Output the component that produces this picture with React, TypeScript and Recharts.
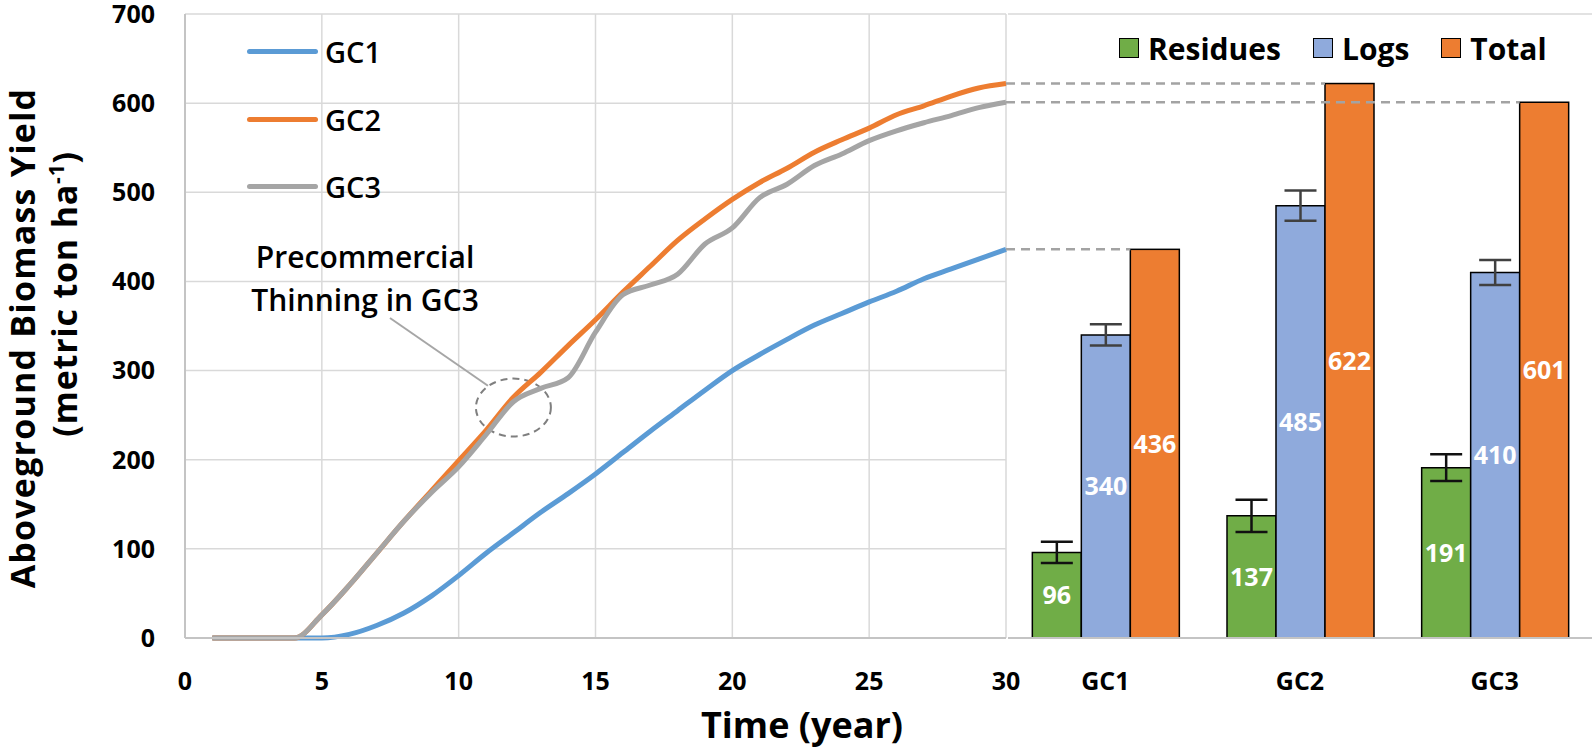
import React from 'react';
import {
  LineChart, Line, BarChart, Bar, XAxis, YAxis, CartesianGrid, Legend,
  ReferenceLine, ReferenceArea, ReferenceDot, ErrorBar, LabelList,
} from 'recharts';

const FONT = "'Open Sans', sans-serif";

// growth curves, metric ton / ha, one value per year
const years = [1, 2, 3, 4, 5, 6, 7, 8, 9, 10, 11, 12, 13, 14, 15, 16, 17, 18, 19, 20, 21, 22, 23, 24, 25, 26, 27, 28, 29, 30];
const gc1Yield = [0, 0, 0, 0, 0, 4, 14, 28, 47, 70, 95, 118, 141, 162, 184, 208, 232, 255, 278, 300, 318, 335, 351, 364, 377, 389, 403, 414, 425, 436];
const gc2Yield = [0, 0, 0, 0, 26, 59, 95, 131, 165, 199, 233, 270, 298, 328, 357, 388, 417, 446, 470, 492, 511, 527, 545, 559, 572, 587, 597, 608, 617, 622];
const gc3Yield = [0, 0, 0, 0, 26, 59, 95, 131, 163, 192, 228, 265, 280, 292, 343, 385, 396, 408, 442, 460, 494, 509, 530, 543, 558, 569, 578, 586, 595, 601];

// harvest at year 30
const groups = ['GC1', 'GC2', 'GC3'];
const residues = [96, 137, 191];
const residuesErr = [12, 18, 15];
const logs = [340, 485, 410];
const logsErr = [12, 17, 14];
const total = [436, 622, 601];
const barSeries = ['Residues', 'Logs', 'Total'];

const yTicks = [0, 100, 200, 300, 400, 500, 600, 700];
const xTicks = [0, 5, 10, 15, 20, 25, 30];

const lineData = years.map((year, i) => ({
  year, GC1: gc1Yield[i], GC2: gc2Yield[i], GC3: gc3Yield[i],
}));

const barData = groups.map((group, i) => ({
  group,
  residues: residues[i], residuesErr: residuesErr[i],
  logs: logs[i], logsErr: logsErr[i],
  total: total[i],
}));

const tickStyle = { fill: '#000', fontSize: 25, fontWeight: 700, fontFamily: FONT };
const axisLine = { stroke: '#c4c4c4', strokeWidth: 2 };

function LineLegend({ payload }: any) {
  return (
    <div style={{ fontFamily: FONT }}>
      {(payload || []).map((item: any) => (
        <div key={item.value} style={{ display: 'flex', alignItems: 'center', height: 67.5 }}>
          <span style={{ width: 71, height: 5, borderRadius: 3, background: item.color }} />
          <span style={{ marginLeft: 7, fontSize: 29, fontWeight: 600, color: '#000' }}>{item.value}</span>
        </div>
      ))}
    </div>
  );
}

function BarLegend({ payload }: any) {
  const items = [...(payload || [])].sort(
    (a: any, b: any) => barSeries.indexOf(a.value) - barSeries.indexOf(b.value),
  );
  return (
    <div style={{ display: 'flex', alignItems: 'center', height: 40, fontFamily: FONT }}>
      {items.map((item: any) => (
        <div key={item.value} style={{ display: 'flex', alignItems: 'center', marginRight: 32 }}>
          <span style={{ width: 18, height: 18, background: item.color, border: '1.5px solid #000' }} />
          <span style={{ marginLeft: 9, fontSize: 30, fontWeight: 700, color: '#000' }}>{item.value}</span>
        </div>
      ))}
    </div>
  );
}

// Total bar plus the dashed guide running back to the end of its curve
function TotalBar({ x, y, width, height, fill }: any) {
  return (
    <g>
      <rect x={x} y={y} width={width} height={height} fill={fill} stroke="#000" strokeWidth={1.5} />
      <line x1={0} y1={y} x2={x} y2={y} stroke="#a3a3a3" strokeWidth={2.5} strokeDasharray="9 6" />
    </g>
  );
}

function YTitle() {
  return (
    <g fontFamily={FONT} fontWeight={700} fill="#000">
      <text x={35} y={338} transform="rotate(-90, 35, 338)" textAnchor="middle" fontSize={34} letterSpacing={1.2}>
        Aboveground Biomass Yield
      </text>
      <text x={77} y={294} transform="rotate(-90, 77, 294)" textAnchor="middle" fontSize={34} letterSpacing={0.8}>
        (metric ton ha<tspan fontSize={21} dy={-13}>-1</tspan><tspan dy={13}>)</tspan>
      </text>
    </g>
  );
}

function XTitle() {
  return (
    <text x={802} y={738} textAnchor="middle" fontFamily={FONT} fontWeight={700} fontSize={36} fill="#000">
      Time (year)
    </text>
  );
}

function NoteText({ cx, cy }: any) {
  return (
    <g fontFamily={FONT} fontWeight={600} fontSize={30} fill="#000" textAnchor="middle">
      <text x={cx} y={cy - 22}>Precommercial</text>
      <text x={cx} y={cy + 21}>Thinning in GC3</text>
    </g>
  );
}

function NoteEllipse({ x, y, width, height }: any) {
  return (
    <ellipse
      cx={x + width / 2} cy={y + height / 2} rx={width / 2} ry={height / 2}
      fill="none" stroke="#7f7f7f" strokeWidth={2} strokeDasharray="7 5"
    />
  );
}

export default function App() {
  return (
    <div style={{ position: 'absolute', left: 0, top: 0, width: 1594, height: 750, background: '#fff' }}>
      <div style={{ position: 'absolute', left: 0, top: 0 }}>
        <LineChart width={1040} height={750} data={lineData} margin={{ top: 14, right: 34, bottom: 12, left: 0 }}>
          <CartesianGrid stroke="#d9d9d9" strokeWidth={1.5} />
          <XAxis
            dataKey="year" type="number" domain={[0, 30]} ticks={xTicks}
            height={100} tick={tickStyle} tickLine={false} tickSize={6} tickMargin={28}
            axisLine={axisLine} label={{ content: () => <XTitle /> }}
          />
          <YAxis
            domain={[0, 700]} ticks={yTicks} width={185}
            tick={tickStyle} tickLine={false} tickSize={6} tickMargin={24}
            axisLine={axisLine} label={{ content: () => <YTitle /> }}
          />
          <Legend
            layout="horizontal" verticalAlign="middle" align="center"
            content={<LineLegend />}
            wrapperStyle={{ left: 247, top: 18, width: 'auto', height: 'auto' }}
          />
          <Line type="monotone" dataKey="GC1" name="GC1" stroke="#5B9BD5" strokeWidth={5} dot={false} isAnimationActive={false} />
          <Line type="monotone" dataKey="GC2" name="GC2" stroke="#ED7D31" strokeWidth={5} dot={false} isAnimationActive={false} />
          <Line type="monotone" dataKey="GC3" name="GC3" stroke="#A5A5A5" strokeWidth={5} dot={false} isAnimationActive={false} />
          <ReferenceArea x1={10.63} x2={13.37} y1={226} y2={291} ifOverflow="visible" shape={<NoteEllipse />} />
          <ReferenceLine
            segment={[{ x: 7.49, y: 359 }, { x: 11.07, y: 283 }]}
            stroke="#a6a6a6" strokeWidth={2} ifOverflow="visible"
          />
          <ReferenceDot x={6.58} y={390} r={0} ifOverflow="visible" shape={<NoteText />} />
        </LineChart>
      </div>
      <div style={{ position: 'absolute', left: 1006, top: 0 }}>
        <BarChart
          width={588} height={750} data={barData}
          margin={{ top: 14, right: 2, bottom: 12, left: 2 }}
          barCategoryGap="12.5%" barGap={0}
        >
          <CartesianGrid stroke="#d9d9d9" strokeWidth={1.5} vertical={false} />
          <XAxis
            dataKey="group" height={100} tick={tickStyle} tickLine={false}
            tickSize={6} tickMargin={28} axisLine={axisLine}
          />
          <YAxis domain={[0, 700]} ticks={yTicks} width={0} tick={false} axisLine={false} tickLine={false} />
          <Legend
            layout="horizontal" verticalAlign="middle" align="center"
            content={<BarLegend />}
            wrapperStyle={{ left: 113, top: 28, width: 'auto', height: 'auto' }}
          />
          <Bar dataKey="residues" name="Residues" fill="#70AD47" stroke="#000" strokeWidth={1.5} isAnimationActive={false}>
            <ErrorBar dataKey="residuesErr" width={16} strokeWidth={2.5} stroke="#111" direction="y" />
            <LabelList dataKey="residues" position="center" fill="#fff" fontSize={25} fontWeight={700} fontFamily={FONT} />
          </Bar>
          <Bar dataKey="logs" name="Logs" fill="#8FAADC" stroke="#000" strokeWidth={1.5} isAnimationActive={false}>
            <ErrorBar dataKey="logsErr" width={16} strokeWidth={2.5} stroke="#404040" direction="y" />
            <LabelList dataKey="logs" position="center" fill="#fff" fontSize={25} fontWeight={700} fontFamily={FONT} />
          </Bar>
          <Bar dataKey="total" name="Total" fill="#ED7D31" shape={<TotalBar />} isAnimationActive={false}>
            <LabelList dataKey="total" position="center" fill="#fff" fontSize={25} fontWeight={700} fontFamily={FONT} />
          </Bar>
        </BarChart>
      </div>
    </div>
  );
}
